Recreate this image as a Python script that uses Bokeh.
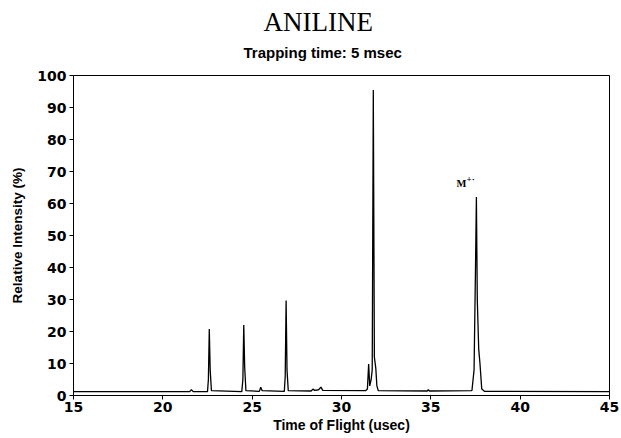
from bokeh.plotting import figure
from bokeh.models import Range1d, Label, FixedTicker, Title
from bokeh.embed import file_html
from bokeh.resources import INLINE

# Spectrum trace: time of flight (usec) and relative intensity (%)
tof = [15.0, 21.50, 21.60, 21.70,
       22.50, 22.55, 22.60, 22.65, 22.72,
       24.42, 24.48, 24.53, 24.58, 24.65,
       25.40, 25.48, 25.56, 26.80,
       26.85, 26.90, 26.95, 27.02,
       28.30, 28.40, 28.50, 28.72, 28.85, 28.95,
       31.35, 31.45, 31.52, 31.58, 31.66, 31.72, 31.78, 31.84, 31.92, 31.98, 32.06,
       34.80, 34.86, 34.92,
       37.30, 37.42, 37.50, 37.55, 37.60, 37.68, 37.75, 37.85, 38.00, 45.0]
intensity = [1.2, 1.2, 1.8, 1.2,
             1.2, 5.0, 20.8, 8.0, 1.5,
             1.2, 5.0, 22.0, 9.0, 1.5,
             1.3, 2.6, 1.5, 1.3,
             6.0, 29.7, 8.0, 1.5,
             1.4, 2.0, 1.6, 1.8, 2.6, 1.6,
             1.5, 2.0, 9.8, 3.0, 5.0, 8.0, 95.5, 12.0, 8.5, 3.0, 1.5,
             1.4, 1.8, 1.4,
             1.5, 8.0, 40.0, 62.0, 30.0, 14.5, 10.0, 2.0, 1.3, 1.2]

x_ticks = [15, 20, 25, 30, 35, 40, 45]
y_ticks = [0, 10, 20, 30, 40, 50, 60, 70, 80, 90, 100]

title_text = "ANILINE"
subtitle_text = "Trapping time: 5 msec"

p = figure(width=621, height=438, output_backend="svg", toolbar_location=None,
           title=None,
           x_range=Range1d(15, 45), y_range=Range1d(0, 100),
           min_border_left=73, min_border_right=12, min_border_top=75, min_border_bottom=43)

p.line(tof, intensity, line_color="black", line_width=1.3)

p.xgrid.visible = False
p.ygrid.visible = False
p.outline_line_color = "black"
p.outline_line_width = 1
p.background_fill_color = "white"
p.border_fill_color = "white"

for ax in (p.xaxis[0], p.yaxis[0]):
    ax.major_tick_in = 0
    ax.major_tick_out = 4
    ax.minor_tick_in = 0
    ax.minor_tick_out = 0
    ax.axis_line_color = "black"
    ax.major_tick_line_color = "black"
    ax.major_label_text_font = "DejaVu Sans"
    ax.major_label_text_font_style = "bold"
    ax.major_label_text_font_size = "14px"
    ax.major_label_text_color = "black"
    ax.axis_label_text_font = "Liberation Sans"
    ax.axis_label_text_font_style = "bold"
    ax.axis_label_text_color = "black"

p.xaxis.axis_label_text_font_size = "14px"
p.yaxis.axis_label_text_font_size = "13.5px"
p.xaxis.ticker = FixedTicker(ticks=x_ticks)
p.yaxis.ticker = FixedTicker(ticks=y_ticks)
p.xaxis.axis_label = "Time of Flight (usec)"
p.yaxis.axis_label = "Relative Intensity (%)"
p.xaxis.major_label_standoff = 2
p.xaxis.axis_label_standoff = 2
p.yaxis.major_label_standoff = 3
p.yaxis.axis_label_standoff = 9

p.add_layout(Title(text=subtitle_text, align="left", offset=170,
                   text_font="Liberation Sans", text_font_style="bold",
                   text_font_size="15px", text_color="black", standoff=29), "above")
p.add_layout(Title(text=title_text, align="left", offset=190,
                   text_font="Liberation Serif", text_font_style="normal",
                   text_font_size="27px", text_color="black", standoff=-18), "above")

p.add_layout(Label(x=36.71, y=64.4, text="M", text_align="center",
                   text_font="Liberation Serif", text_font_style="bold",
                   text_font_size="10.5px", text_color="black"))
p.add_layout(Label(x=37.0, y=66.2, text="+\u00b7", text_align="left",
                   text_font="Liberation Serif", text_font_style="bold",
                   text_font_size="9px", text_color="black"))

open("out.html", "w").write(file_html(p, INLINE))
